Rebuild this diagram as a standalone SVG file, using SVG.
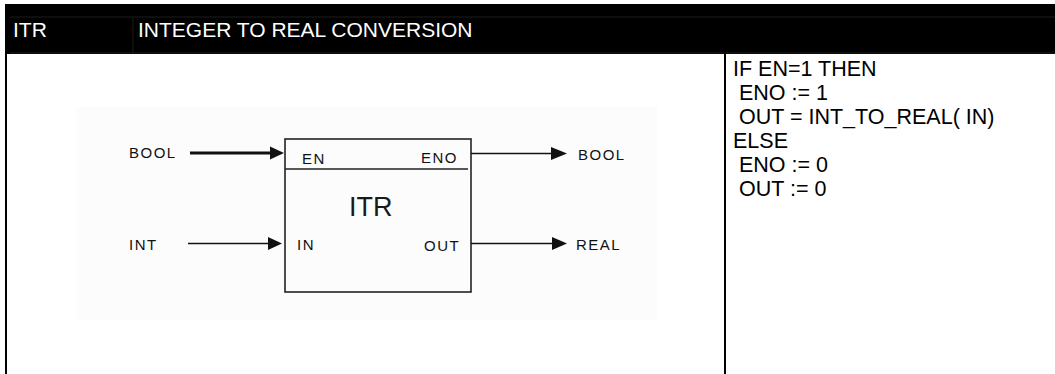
<svg xmlns="http://www.w3.org/2000/svg" width="1055" height="374" viewBox="0 0 1055 374">
<style>
.hdr{font-family:"Liberation Sans",Arial,sans-serif;font-size:21px;fill:#ffffff}
.code{font-family:"Liberation Sans",Arial,sans-serif;font-size:21.5px;fill:#000000}
.lbl{font-family:"Liberation Sans",Arial,sans-serif;font-size:15px;fill:#111;letter-spacing:1.5px}
.title{font-family:"Liberation Sans",Arial,sans-serif;font-size:27px;fill:#1a1a1a}
.wire{stroke:#111;fill:none}
.head{fill:#111}
.frame{stroke:#000;stroke-width:2;fill:none}
</style>
<rect x="0" y="0" width="1055" height="374" fill="#ffffff"/>
<g id="header">
<rect x="5" y="4" width="1050" height="50" fill="#000000"/>
<line x1="10" y1="17" x2="1055" y2="17" stroke="#1c1c1c" stroke-width="1"/>
<line x1="10" y1="53" x2="1055" y2="53" stroke="#1c1c1c" stroke-width="1"/>
<line x1="133" y1="17" x2="133" y2="53" stroke="#1c1c1c" stroke-width="1"/>
<text class="hdr" x="13" y="37">ITR</text>
<text class="hdr" x="138" y="37">INTEGER TO REAL CONVERSION</text>
</g>
<g id="frame">
<line class="frame" x1="6" y1="54" x2="6" y2="374"/>
<line class="frame" x1="725" y1="54" x2="725" y2="374"/>
</g>
<g id="code">
<text class="code" x="733" y="76">IF EN=1 THEN</text>
<text class="code" x="733" y="100" xml:space="preserve"> ENO := 1</text>
<text class="code" x="733" y="124" xml:space="preserve"> OUT = INT_TO_REAL( IN)</text>
<text class="code" x="733" y="148">ELSE</text>
<text class="code" x="733" y="172" xml:space="preserve"> ENO := 0</text>
<text class="code" x="733" y="196" xml:space="preserve"> OUT := 0</text>
</g>
<rect x="76" y="107" width="581" height="213" fill="#fcfcfc"/>
<g id="itr-block">
<rect x="285" y="139" width="186" height="153" fill="none" stroke="#222" stroke-width="1.6"/>
<line x1="285" y1="169" x2="468" y2="169" stroke="#222" stroke-width="1.6"/>
<text class="title" x="349" y="216">ITR</text>
<text class="lbl" x="302" y="164">EN</text>
<text class="lbl" x="421" y="163">ENO</text>
<text class="lbl" x="297" y="250">IN</text>
<text class="lbl" x="424" y="251">OUT</text>
</g>
<g id="labels">
<text class="lbl" x="129" y="158">BOOL</text>
<text class="lbl" x="129" y="250">INT</text>
<text class="lbl" x="578" y="160">BOOL</text>
<text class="lbl" x="576" y="250">REAL</text>
</g>
<g id="connectors">
<line class="wire" x1="190" y1="153" x2="272" y2="153" stroke-width="3"/>
<polygon class="head" points="270,146.5 284,153 270,159.5"/>
<line class="wire" x1="188" y1="243.5" x2="270" y2="243.5" stroke-width="1.5"/>
<polygon class="head" points="268,237 282,243.5 268,250"/>
<line class="wire" x1="471" y1="153.5" x2="552" y2="153.5" stroke-width="1.5"/>
<polygon class="head" points="551,147 567,153.5 551,160"/>
<line class="wire" x1="471" y1="243.5" x2="553" y2="243.5" stroke-width="1.5"/>
<polygon class="head" points="552,237 567,243.5 552,250"/>
</g>
</svg>
